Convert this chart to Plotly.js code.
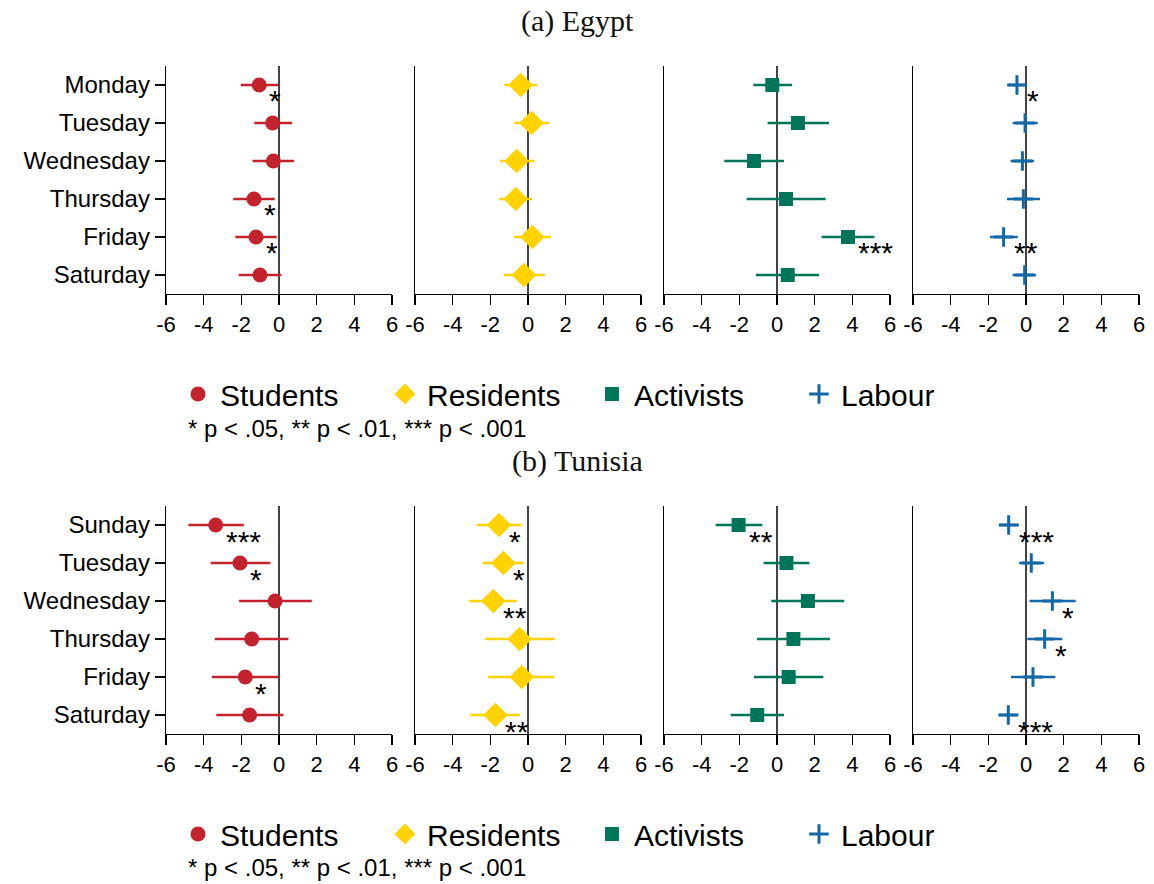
<!DOCTYPE html>
<html><head><meta charset="utf-8">
<script src="https://cdn.plot.ly/plotly-3.0.1.min.js"></script>
<style>html,body{margin:0;padding:0;background:#fff}#chart{width:1154px;height:884px}</style>
</head><body><div id="chart"></div><script>
// ---------- DATA ----------
const egyptDays   = ["Monday","Tuesday","Wednesday","Thursday","Friday","Saturday"];
const tunisiaDays = ["Sunday","Tuesday","Wednesday","Thursday","Friday","Saturday"];
const groups = ["Students","Residents","Activists","Labour"];
const tickVals = [-6,-4,-2,0,2,4,6];
const tickLabels = ["-6","-4","-2","0","2","4","6"];
const sigNote = "* p < .05, ** p < .01, *** p < .001";

// Egypt
const egStudentsCoef = [-1.05,-0.34,-0.30,-1.33,-1.22,-1.01];
const egStudentsLo   = [-2.03,-1.31,-1.40,-2.43,-2.32,-2.14];
const egStudentsHi   = [-0.05, 0.69, 0.80,-0.23,-0.12, 0.12];
const egStudentsSig  = ["*","","","*","*",""];

const egResidentsCoef = [-0.39, 0.19,-0.60,-0.65, 0.23,-0.21];
const egResidentsLo   = [-1.26,-0.73,-1.49,-1.52,-0.74,-1.27];
const egResidentsHi   = [ 0.48, 1.12, 0.34, 0.21, 1.22, 0.90];
const egResidentsSig  = ["","","","","",""];

const egActivistsCoef = [-0.25, 1.11,-1.22, 0.48, 3.77, 0.57];
const egActivistsLo   = [-1.26,-0.50,-2.80,-1.61, 2.37,-1.12];
const egActivistsHi   = [ 0.80, 2.76, 0.37, 2.58, 5.17, 2.23];
const egActivistsSig  = ["","","","","***",""];

const egLabourCoef = [-0.48,-0.05,-0.19,-0.14,-1.19,-0.07];
const egLabourLo   = [-0.92,-0.71,-0.82,-1.01,-1.91,-0.71];
const egLabourHi   = [ 0.00, 0.62, 0.42, 0.74,-0.44, 0.53];
const egLabourSig  = ["*","","","","**",""];

// Tunisia
const tnStudentsCoef = [-3.36,-2.07,-0.21,-1.45,-1.79,-1.56];
const tnStudentsLo   = [-4.81,-3.63,-2.12,-3.41,-3.57,-3.33];
const tnStudentsHi   = [-1.87,-0.46, 1.74, 0.50,-0.02, 0.23];
const tnStudentsSig  = ["***","*","","","*",""];

const tnResidentsCoef = [-1.54,-1.31,-1.84,-0.44,-0.33,-1.73];
const tnResidentsLo   = [-2.71,-2.41,-3.13,-2.27,-2.11,-3.06];
const tnResidentsHi   = [-0.34,-0.23,-0.60, 1.42, 1.38,-0.44];
const tnResidentsSig  = ["*","*","**","","","**"];

const tnActivistsCoef = [-2.04, 0.50, 1.64, 0.87, 0.62,-1.05];
const tnActivistsLo   = [-3.26,-0.71,-0.30,-1.06,-1.22,-2.46];
const tnActivistsHi   = [-0.78, 1.72, 3.57, 2.81, 2.46, 0.37];
const tnActivistsSig  = ["**","","","","",""];

const tnLabourCoef = [-0.92, 0.28, 1.40, 0.99, 0.37,-0.94];
const tnLabourLo   = [-1.43,-0.37, 0.19, 0.07,-0.80,-1.45];
const tnLabourHi   = [-0.39, 0.96, 2.64, 1.93, 1.56,-0.41];
const tnLabourSig  = ["***","","*","*","","***"];

// ---------- STYLE ----------
const W = 1154, H = 884;
const px = v => v / W;
const py = v => 1 - v / H;
const colors = ["#c4222d", "#ffd200", "#00755a", "#1368a8"];
const symbols = ["circle", "diamond", "square", "cross-thin"];
const sizes = [15, 19, 14, 14];
const xDomains = [[166,392],[415,641],[664,890],[913,1139]];
const yDomains = [[66,294],[506,734]];
const sans = "Liberation Sans, Arial, sans-serif";
const serif = "Liberation Serif, Times New Roman, serif";

const countries = [
  { days: egyptDays, legend: "legend",
    series: [
      [egStudentsCoef, egStudentsLo, egStudentsHi, egStudentsSig],
      [egResidentsCoef, egResidentsLo, egResidentsHi, egResidentsSig],
      [egActivistsCoef, egActivistsLo, egActivistsHi, egActivistsSig],
      [egLabourCoef, egLabourLo, egLabourHi, egLabourSig]] },
  { days: tunisiaDays, legend: "legend2",
    series: [
      [tnStudentsCoef, tnStudentsLo, tnStudentsHi, tnStudentsSig],
      [tnResidentsCoef, tnResidentsLo, tnResidentsHi, tnResidentsSig],
      [tnActivistsCoef, tnActivistsLo, tnActivistsHi, tnActivistsSig],
      [tnLabourCoef, tnLabourLo, tnLabourHi, tnLabourSig]] }
];

const traces = [];
const annotations = [];
const layout = {
  width: W, height: H,
  margin: {l: 0, r: 0, t: 0, b: 0},
  paper_bgcolor: "#fff", plot_bgcolor: "#fff",
  showlegend: true,
  font: {family: sans, color: "#000"},
  annotations: annotations
};

countries.forEach((c, ci) => {
  c.series.forEach((s, gi) => {
    const idx = ci * 4 + gi + 1;
    const xa = "x" + (idx > 1 ? idx : "");
    const ya = "y" + (idx > 1 ? idx : "");
    const [coef, lo, hi, sig] = s;
    const marker = {symbol: symbols[gi], size: sizes[gi], color: colors[gi]};
    if (symbols[gi] === "cross-thin") marker.line = {color: colors[gi], width: 3};
    else marker.line = {width: 0};
    traces.push({
      type: "scatter", mode: "markers",
      x: coef, y: c.days,
      xaxis: xa, yaxis: ya,
      name: groups[gi], legend: c.legend,
      marker: marker,
      error_x: {type: "data", symmetric: false,
        array: coef.map((v, i) => hi[i] - v),
        arrayminus: coef.map((v, i) => v - lo[i]),
        color: colors[gi], thickness: 2.5, width: 0},
      hoverinfo: "x+y+name"
    });
    sig.forEach((t, i) => {
      if (!t) return;
      annotations.push({
        xref: xa, yref: ya, x: coef[i], y: i,
        text: t,
        showarrow: false, xanchor: "left", yanchor: "middle",
        xshift: 8, yshift: -16,
        font: {family: sans, size: 30, color: "#000"}
      });
    });
    const xKey = "xaxis" + (idx > 1 ? idx : "");
    const yKey = "yaxis" + (idx > 1 ? idx : "");
    layout[xKey] = {
      domain: [px(xDomains[gi][0]), px(xDomains[gi][1])],
      anchor: ya, range: [-6, 6], fixedrange: true,
      tickmode: "array", tickvals: tickVals, ticktext: tickLabels,
      ticks: "outside", ticklen: 10, tickwidth: 1.3, tickcolor: "#000",
      ticklabelstandoff: 0,
      showline: true, linecolor: "#000", linewidth: 1.3,
      showgrid: false,
      zeroline: true, zerolinecolor: "#444", zerolinewidth: 1.6,
      tickfont: {family: sans, size: 22, color: "#000"}
    };
    layout[yKey] = {
      domain: [py(yDomains[ci][1]), py(yDomains[ci][0])],
      anchor: xa, type: "category",
      categoryorder: "array", categoryarray: c.days,
      range: [5.5, -0.5], fixedrange: true,
      showline: true, linecolor: "#000", linewidth: 1.3,
      showgrid: false, zeroline: false,
      ticks: gi === 0 ? "outside" : "", ticklen: 10, tickwidth: 1.3, tickcolor: "#000",
      showticklabels: gi === 0,
      tickfont: {family: sans, size: 24, color: "#000"}
    };
  });
});

const legendBase = {
  orientation: "h", xanchor: "left", yanchor: "middle",
  font: {family: sans, size: 30, color: "#000"},
  bgcolor: "rgba(0,0,0,0)", borderwidth: 0,
  itemwidth: 34,
  entrywidth: 158, entrywidthmode: "pixels",
  itemclick: false, itemdoubleclick: false
};
layout.legend = Object.assign({}, legendBase, {x: px(176), y: py(394)});
layout.legend2 = Object.assign({}, legendBase, {x: px(176), y: py(834)});

annotations.push(
  {xref: "paper", yref: "paper", x: 0.5, y: py(21), text: "(a) Egypt", showarrow: false,
   xanchor: "center", yanchor: "middle", font: {family: serif, size: 30, color: "#111"}},
  {xref: "paper", yref: "paper", x: 0.5, y: py(461), text: "(b) Tunisia", showarrow: false,
   xanchor: "center", yanchor: "middle", font: {family: serif, size: 30, color: "#111"}},
  {xref: "paper", yref: "paper", x: px(186), y: py(428), text: sigNote, showarrow: false,
   xanchor: "left", yanchor: "middle", font: {family: sans, size: 24, color: "#000"}},
  {xref: "paper", yref: "paper", x: px(186), y: py(867), text: sigNote, showarrow: false,
   xanchor: "left", yanchor: "middle", font: {family: sans, size: 24, color: "#000"}}
);

Plotly.newPlot("chart", traces, layout, {displayModeBar: false, staticPlot: true});
</script></body></html>
